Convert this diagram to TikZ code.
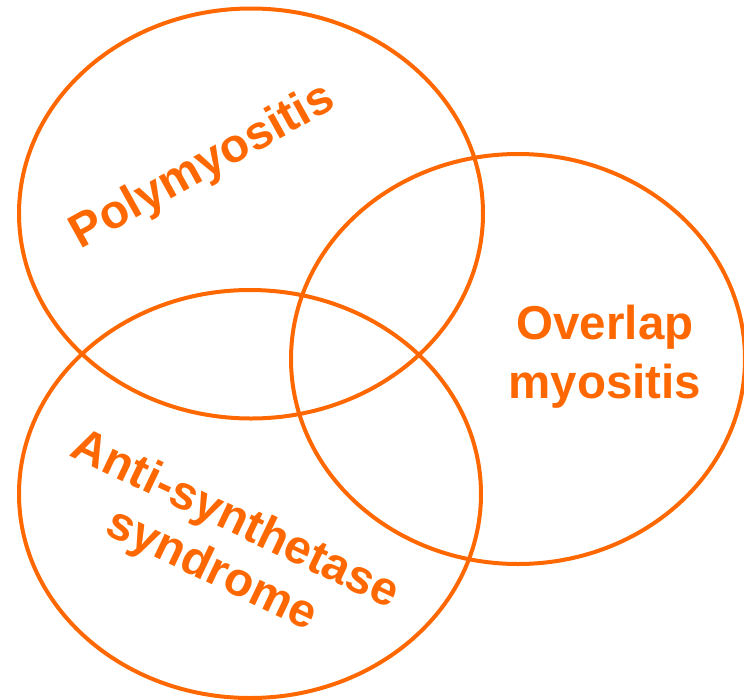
\documentclass[tikz,border=0pt]{standalone}
\usepackage{fontspec}
\setmainfont{Liberation Sans}
\usepackage{tikz}
\definecolor{myoorange}{RGB}{255,104,0}

\begin{document}
\begin{tikzpicture}[x=1pt,y=-1pt,line cap=round,
  ring/.style={draw=myoorange,line width=4pt},
  lbl/.style={text=myoorange,font=\bfseries\fontsize{47.5}{55}\selectfont,align=center,inner sep=0pt}]
\useasboundingbox (0,0) rectangle (744,699);
% the three circles
\draw[ring] (251,213.5) ellipse [x radius=232pt,y radius=205pt];
\draw[ring] (518,359) ellipse [x radius=227pt,y radius=205pt];
\draw[ring] (250,494) ellipse [x radius=231pt,y radius=204pt];
% labels
\node[lbl,anchor=base,rotate=29] (poly) at (209,178) {Polymyositis};
\node[lbl,anchor=center,font=\bfseries\fontsize{47.5}{59}\selectfont] (overlap) at (605,357) {Overlap\\myositis};
\node[lbl,anchor=center,rotate=-25.5] (antisyn) at (223,546) {Anti-synthetase\\syndrome};
\end{tikzpicture}
\end{document}
